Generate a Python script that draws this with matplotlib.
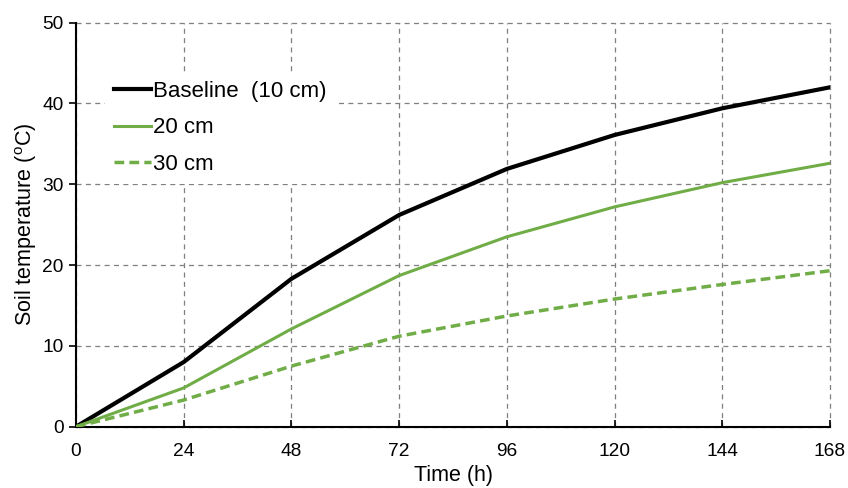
import matplotlib
matplotlib.use("Agg")
import matplotlib.pyplot as plt

plt.rcParams['font.family'] = ['Liberation Sans', 'DejaVu Sans']
plt.rcParams['mathtext.fontset'] = 'custom'
plt.rcParams['mathtext.rm'] = 'Liberation Sans'

hours = [0, 24, 48, 72, 96, 120, 144, 168]
baseline = [0, 8.0, 18.3, 26.2, 31.9, 36.1, 39.4, 42.0]
cm20 = [0, 4.8, 12.1, 18.7, 23.5, 27.2, 30.2, 32.6]
cm30 = [0, 3.3, 7.5, 11.2, 13.7, 15.8, 17.6, 19.3]

green = '#70ad47'

fig = plt.figure(figsize=(8.48, 4.88), dpi=100)
ax = fig.add_axes([0.0896, 0.1256, 0.8892, 0.828])

ax.plot(hours, baseline, color='black', lw=3, label='Baseline  (10 cm)', zorder=3)
ax.plot(hours, cm20, color=green, lw=2.2, label='20 cm', zorder=3)
ax.plot(hours, cm30, color=green, lw=2.5, ls=(0, (2.8, 1.5)), label='30 cm', zorder=3)

ax.set_xlim(0, 168)
ax.set_ylim(0, 50)
ax.set_xticks(hours)
ax.set_yticks(range(0, 51, 10))
ax.grid(True, color='#7f7f7f', lw=0.9, ls=(0, (4, 3.5)))
for gl in ax.get_xgridlines() + ax.get_ygridlines():
    gl.set_clip_on(False)
ax.set_axisbelow(True)

for s in ['top', 'right']:
    ax.spines[s].set_visible(False)
for s in ['left', 'bottom']:
    ax.spines[s].set_linewidth(1.5)
ax.tick_params(axis='x', direction='in', length=5, width=1.2, labelsize=13.8, pad=12)
ax.tick_params(axis='y', direction='out', length=5, width=1.2, labelsize=13.8, pad=4)

ax.set_xlabel('Time (h)', fontsize=15.5, labelpad=3)
ax.set_ylabel(r'Soil temperature ($^{\mathrm{o}}$C)', fontsize=15.5, labelpad=2)

leg = ax.legend(loc='upper left', bbox_to_anchor=(0.024, 0.905), fontsize=16,
                frameon=True, framealpha=1, edgecolor='none', fancybox=False,
                handlelength=1.67, handletextpad=0.06, labelspacing=0.69,
                borderpad=0.4)

fig.savefig('out.png', dpi=100)
